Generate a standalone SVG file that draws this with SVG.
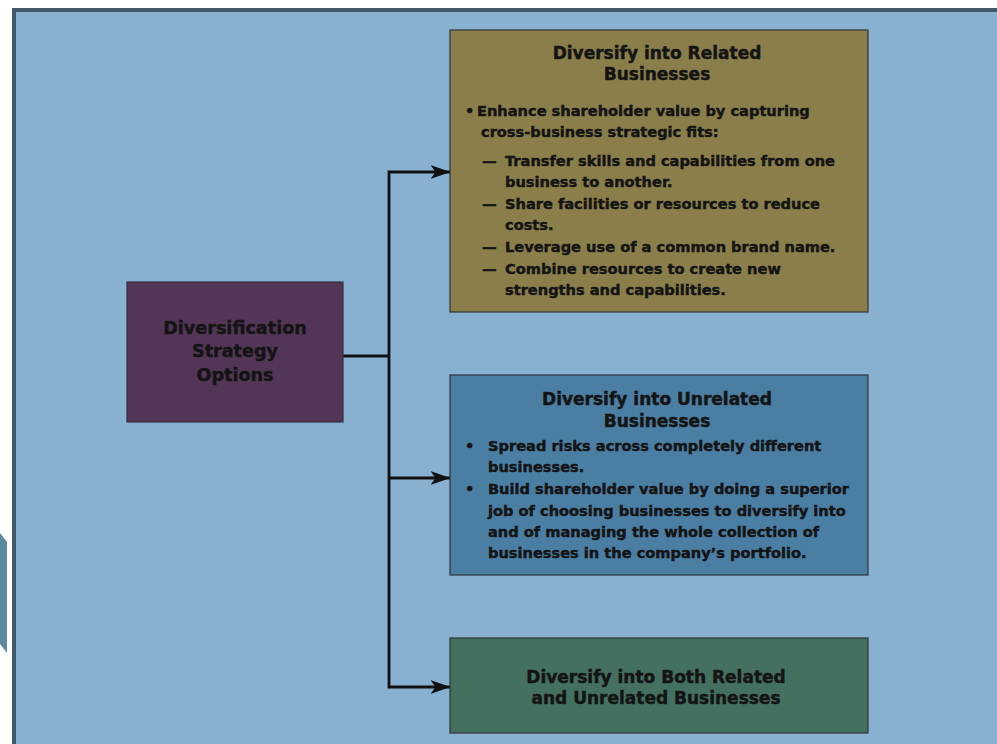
<svg xmlns="http://www.w3.org/2000/svg" width="997" height="744" viewBox="0 0 997 744">
  <defs>
    <style>
      .t { font-family: "DejaVu Sans", "Liberation Sans", sans-serif; font-weight: bold; fill: #141414; stroke: #141414; stroke-width: 0.45px; }
      .title { font-size: 17px; text-anchor: middle; }
      .body { font-size: 14.6px; }
      .box { stroke: #2f3338; stroke-width: 1.2; }
      .conn { fill: none; stroke: #111; stroke-width: 2.8; }
    </style>
    <marker id="arrow" viewBox="0 0 20 14" refX="19.5" refY="7" markerWidth="20" markerHeight="14" markerUnits="userSpaceOnUse" orient="auto">
      <path d="M0,0 L20,7 L0,14 L5,7 Z" fill="#111"/>
    </marker>
  </defs>

  <rect width="997" height="744" fill="#ffffff"/>
  <polygon points="0,533 7,542 7,653 0,644" fill="#5b8aa0"/>
  <rect x="14" y="10" width="1000" height="800" fill="#87b0d1" stroke="#425a6c" stroke-width="4"/>

  <g id="connectors">
    <path class="conn" d="M343,356 H389"/>
    <path class="conn" d="M389,356 V172 H450" marker-end="url(#arrow)"/>
    <path class="conn" d="M389,356 V687 H450" marker-end="url(#arrow)"/>
    <path class="conn" d="M389,478 H450" marker-end="url(#arrow)"/>
  </g>

  <g id="options">
    <rect class="box" x="127" y="282" width="216" height="140" fill="#533657"/>
    <text class="t title" style="font-size:17.6px" x="235" y="334">Diversification</text>
    <text class="t title" style="font-size:17.6px" x="235" y="357">Strategy</text>
    <text class="t title" style="font-size:17.6px" x="235" y="381">Options</text>
  </g>

  <g id="related">
    <rect class="box" x="450" y="30" width="418" height="282" fill="#8a7e4b"/>
    <text class="t title" x="657" y="59">Diversify into Related</text>
    <text class="t title" x="657" y="80">Businesses</text>
    <text class="t body" x="465" y="116">•</text>
    <text class="t body" x="477" y="116">Enhance shareholder value by capturing</text>
    <text class="t body" x="481" y="137">cross-business strategic fits:</text>
    <text class="t body" x="482" y="166">—</text>
    <text class="t body" x="505" y="166">Transfer skills and capabilities from one</text>
    <text class="t body" x="505" y="187">business to another.</text>
    <text class="t body" x="482" y="209">—</text>
    <text class="t body" x="505" y="209">Share facilities or resources to reduce</text>
    <text class="t body" x="505" y="230">costs.</text>
    <text class="t body" x="482" y="252">—</text>
    <text class="t body" x="505" y="252">Leverage use of a common brand name.</text>
    <text class="t body" x="482" y="274">—</text>
    <text class="t body" x="505" y="274">Combine resources to create new</text>
    <text class="t body" x="505" y="295">strengths and capabilities.</text>
  </g>

  <g id="unrelated">
    <rect class="box" x="450" y="375" width="418" height="200" fill="#4b7ea3"/>
    <text class="t title" x="657" y="405">Diversify into Unrelated</text>
    <text class="t title" x="657" y="427">Businesses</text>
    <text class="t body" x="465" y="451">•</text>
    <text class="t body" x="488" y="451">Spread risks across completely different</text>
    <text class="t body" x="488" y="472">businesses.</text>
    <text class="t body" x="465" y="494">•</text>
    <text class="t body" x="488" y="494">Build shareholder value by doing a superior</text>
    <text class="t body" x="488" y="516">job of choosing businesses to diversify into</text>
    <text class="t body" x="488" y="537">and of managing the whole collection of</text>
    <text class="t body" x="488" y="558">businesses in the company’s portfolio.</text>
  </g>

  <g id="both">
    <rect class="box" x="450" y="638" width="418" height="95" fill="#44705f"/>
    <text class="t title" x="656" y="683">Diversify into Both Related</text>
    <text class="t title" x="656" y="704">and Unrelated Businesses</text>
  </g>
</svg>
